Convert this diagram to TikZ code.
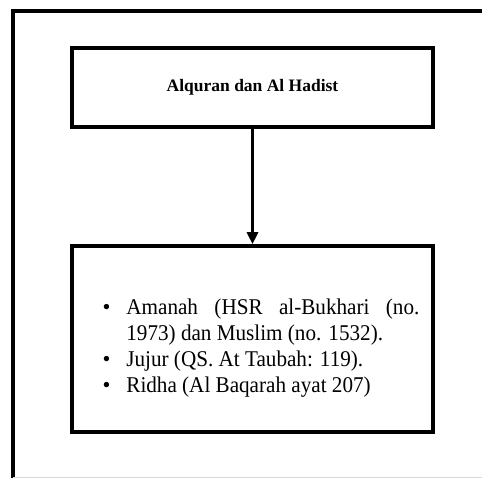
\documentclass[tikz,border=0pt]{standalone}
\usepackage{fontspec}
\setmainfont{Liberation Serif}
\newfontfamily\listfont[FakeStretch=0.94]{Liberation Serif}
\usepackage{enumitem}
\usetikzlibrary{positioning,arrows.meta}
\tikzset{
  fig/.style={x=1pt,y=-1pt},
  box/.style={draw,line width=3.6pt,minimum width=361pt,align=center,inner sep=0pt},
  ln/.style={-{Triangle[length=12pt,width=11pt]},line width=3.6pt},
  rim/.style={line width=4pt},
  lst/.style={text width=314pt,align=justify,inner sep=0pt,
              font=\listfont\fontsize{22.5pt}{26pt}\selectfont},
}

\begin{document}
\begin{tikzpicture}[fig]
\useasboundingbox (0,0) rectangle (482,478);

% Outer frame
\draw[rim] (482,11) -- (13,11) -- (13,478);
\draw[black!15,line width=1pt] (13,477) -- (482,477);

% Source box
\node[box,minimum height=79pt,font=\bfseries\fontsize{17.5pt}{20pt}\selectfont]
  (sumber) at (252.5,87.5) {Alquran dan Al Hadist};

% Values box
\node[box,minimum height=186pt] (akhlak) at (252.5,339) {};
\node[lst,anchor=west] (poin) at ([xshift=35pt,yshift=-4pt]akhlak.west) {%
\tolerance=10000 \hyphenpenalty=10000
\begin{itemize}[leftmargin=21pt,labelsep=16pt,topsep=0pt,itemsep=0pt,parsep=0pt,partopsep=0pt]
\item Amanah (HSR al-Bukhari (no. 1973) dan Muslim (no. 1532).
\item Jujur (QS. At Taubah: 119).
\item Ridha (Al Baqarah ayat 207)
\end{itemize}};

\draw[ln] (sumber) -- (akhlak);

\end{tikzpicture}
\end{document}
